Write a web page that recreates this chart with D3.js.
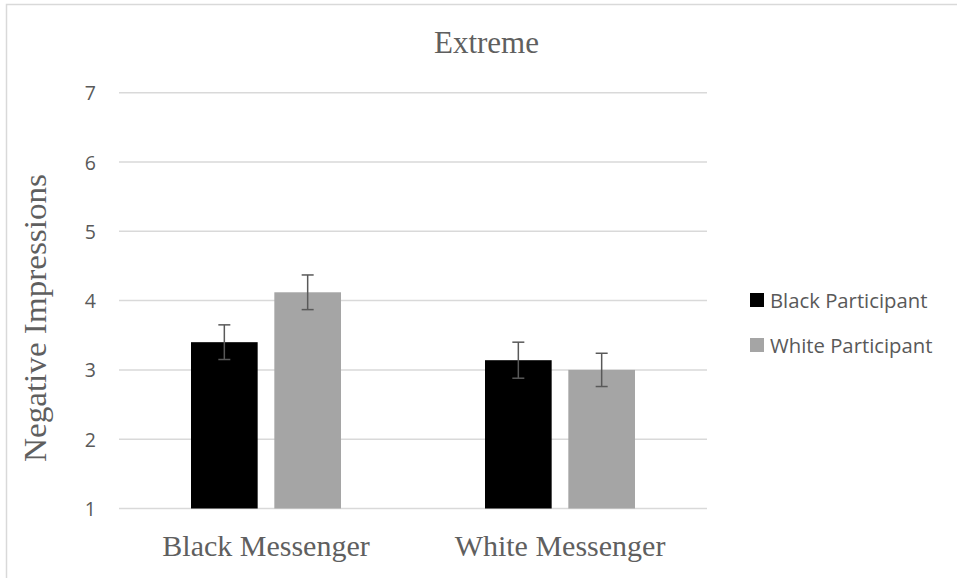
<!DOCTYPE html>
<html>
<head>
<meta charset="utf-8">
<script src="https://cdn.jsdelivr.net/npm/d3@7"></script>
<style>
  html, body { margin: 0; padding: 0; background: #fff; }
  svg { display: block; }
</style>
</head>
<body>
<script>
const categories = ["Black Messenger", "White Messenger"];
const seriesNames = ["Black Participant", "White Participant"];
const blackParticipant = [3.40, 3.14];
const whiteParticipant = [4.12, 3.00];
const blackErr = [0.25, 0.26];
const whiteErr = [0.25, 0.24];
const yTicks = [1, 2, 3, 4, 5, 6, 7];
const title = "Extreme";
const yTitle = "Negative Impressions";

const colors = ["#000000", "#a5a5a5"];
const W = 957, H = 578;

const svg = d3.select("body").append("svg").attr("width", W).attr("height", H);

// chart border
svg.append("rect").attr("x", 6.5).attr("y", 4.5).attr("width", W + 10).attr("height", H + 10)
  .attr("fill", "#fff").attr("stroke", "#d9d9d9").attr("stroke-width", 1.5);

const plot = { left: 119, right: 707, top: 92.7, bottom: 508.5 };

const y = d3.scaleLinear().domain([1, 7]).range([plot.bottom, plot.top]);
const x0 = d3.scaleBand().domain(categories).range([plot.left, plot.right]).padding(0);
const x1 = d3.scaleBand().domain(seriesNames).range([0, 150]).paddingInner(0.2).paddingOuter(0);

// gridlines
svg.append("g").selectAll("line").data(yTicks).join("line")
  .attr("x1", plot.left).attr("x2", plot.right)
  .attr("y1", d => y(d)).attr("y2", d => y(d))
  .attr("stroke", "#d9d9d9").attr("stroke-width", 1.5);

// y axis labels via d3 axis
const yAxis = d3.axisLeft(y).tickValues(yTicks).tickSize(0).tickPadding(0).tickFormat(d3.format("d"));
const gy = svg.append("g").attr("transform", `translate(96,0)`).call(yAxis);
gy.select(".domain").remove();
gy.selectAll("text").attr("font-family", "'Open Sans', 'Liberation Sans', sans-serif")
  .attr("font-size", 19.5).attr("fill", "#595959").attr("dy", "0.36em");

// data table
const data = categories.map((c, i) => ({
  cat: c,
  vals: [
    { s: seriesNames[0], v: blackParticipant[i], e: blackErr[i], c: colors[0] },
    { s: seriesNames[1], v: whiteParticipant[i], e: whiteErr[i], c: colors[1] }
  ]
}));

const groups = svg.append("g").selectAll("g").data(data).join("g")
  .attr("transform", d => `translate(${x0(d.cat) + x0.bandwidth() / 2 - 75},0)`);

groups.selectAll("rect").data(d => d.vals).join("rect")
  .attr("x", d => x1(d.s)).attr("width", x1.bandwidth())
  .attr("y", d => y(d.v)).attr("height", d => y(1) - y(d.v))
  .attr("fill", d => d.c);

// error bars
const eb = groups.selectAll("g.err").data(d => d.vals).join("g").attr("class", "err")
  .attr("transform", d => `translate(${x1(d.s) + x1.bandwidth() / 2},0)`);
eb.append("line").attr("x1", 0).attr("x2", 0)
  .attr("y1", d => y(d.v + d.e)).attr("y2", d => y(d.v - d.e))
  .attr("stroke", "#595959").attr("stroke-width", 1.5);
eb.append("line").attr("x1", -6).attr("x2", 6)
  .attr("y1", d => y(d.v + d.e)).attr("y2", d => y(d.v + d.e))
  .attr("stroke", "#595959").attr("stroke-width", 1.5);
eb.append("line").attr("x1", -6).attr("x2", 6)
  .attr("y1", d => y(d.v - d.e)).attr("y2", d => y(d.v - d.e))
  .attr("stroke", "#595959").attr("stroke-width", 1.5);

// x axis category labels
const xAxis = d3.axisBottom(x0).tickSize(0).tickPadding(0);
const gx = svg.append("g").attr("transform", `translate(0,556)`).call(xAxis);
gx.select(".domain").remove();
gx.selectAll("text").attr("font-family", "'Liberation Serif', serif")
  .attr("font-size", 30).attr("fill", "#5f5f5f").attr("dy", 0).attr("y", 0);

// title
svg.append("text").attr("x", 486.5).attr("y", 53).attr("text-anchor", "middle")
  .attr("font-family", "'Liberation Serif', serif").attr("font-size", 31)
  .attr("fill", "#5f5f5f").text(title);

// y title
svg.append("text").attr("transform", `translate(46,318) rotate(-90)`).attr("text-anchor", "middle")
  .attr("font-family", "'Liberation Serif', serif").attr("font-size", 31)
  .attr("textLength", 288).attr("lengthAdjust", "spacingAndGlyphs")
  .attr("fill", "#5f5f5f").text(yTitle);

// legend
const legend = svg.append("g").selectAll("g").data(seriesNames).join("g")
  .attr("transform", (d, i) => `translate(750,${293 + i * 45})`);
legend.append("rect").attr("width", 14).attr("height", 14).attr("fill", (d, i) => colors[i]);
legend.append("text").attr("x", 20).attr("y", 14.5).text(d => d)
  .attr("font-family", "'Open Sans', 'Liberation Sans', sans-serif").attr("font-size", 20.3)
  .attr("fill", "#595959");
</script>
</body>
</html>
